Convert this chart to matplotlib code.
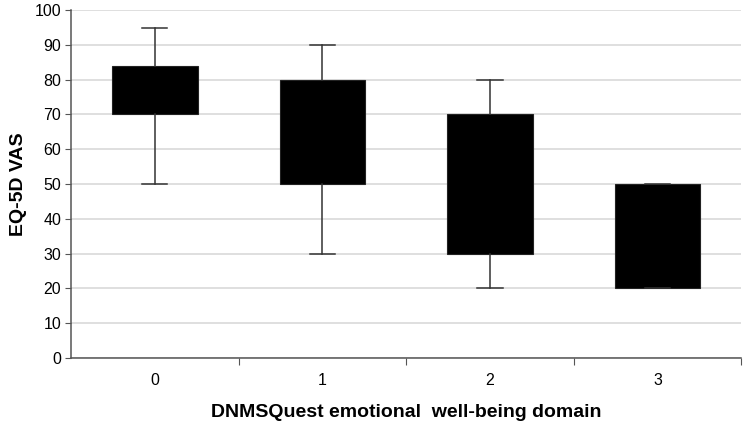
import matplotlib.pyplot as plt

# data
categories = ['0', '1', '2', '3']
whisker_low = [50, 30, 20, 20]
q1 = [70, 50, 30, 20]
q3 = [84, 80, 70, 50]
whisker_high = [95, 90, 80, 50]

plt.rcParams['font.family'] = ['Liberation Sans', 'DejaVu Sans']

fig = plt.figure(figsize=(7.49, 4.24), dpi=100)
ax = fig.add_axes([0.0948, 0.156, 0.895, 0.82])

stats = []
for i in range(len(categories)):
    stats.append({'whislo': whisker_low[i], 'q1': q1[i], 'med': q1[i],
                  'q3': q3[i], 'whishi': whisker_high[i], 'fliers': []})

positions = list(range(len(categories)))
ax.bxp(stats, positions=positions, widths=0.51, patch_artist=True,
       showfliers=False,
       boxprops=dict(facecolor='black', edgecolor='#222222', linewidth=0.8),
       whiskerprops=dict(color='#333333', linewidth=1.1),
       capprops=dict(color='#333333', linewidth=1.1),
       medianprops=dict(linewidth=0),
       capwidths=0.15)

ax.set_xlim(-0.5, len(categories) - 0.5)
ax.set_ylim(0, 100)
ax.set_yticks(range(0, 101, 10))
ax.yaxis.grid(True, color='#d9d9d9', linewidth=1.2)
ax.set_axisbelow(True)

# tick marks between categories, labels at the centres
ax.set_xticks([p + 0.5 for p in positions])
ax.set_xticklabels([])
ax.set_xticks(positions, minor=True)
ax.set_xticklabels(categories, minor=True)
ax.tick_params(axis='x', which='minor', length=0, pad=11, labelsize=11.5)
ax.tick_params(axis='x', which='major', length=5, color='#555555')
ax.tick_params(axis='y', length=4, color='#555555', labelsize=11.5, pad=3)

for side in ['top', 'right']:
    ax.spines[side].set_visible(False)
for side in ['left', 'bottom']:
    ax.spines[side].set_color('#555555')
    ax.spines[side].set_linewidth(1.1)

ax.set_xlabel('DNMSQuest emotional  well-being domain', fontsize=14,
              fontweight='bold')
ax.set_ylabel('EQ-5D VAS', fontsize=14, fontweight='bold')
ax.xaxis.set_label_coords(0.5, -0.132)
ax.yaxis.set_label_coords(-0.066, 0.5)

fig.savefig('out.png', dpi=100)
